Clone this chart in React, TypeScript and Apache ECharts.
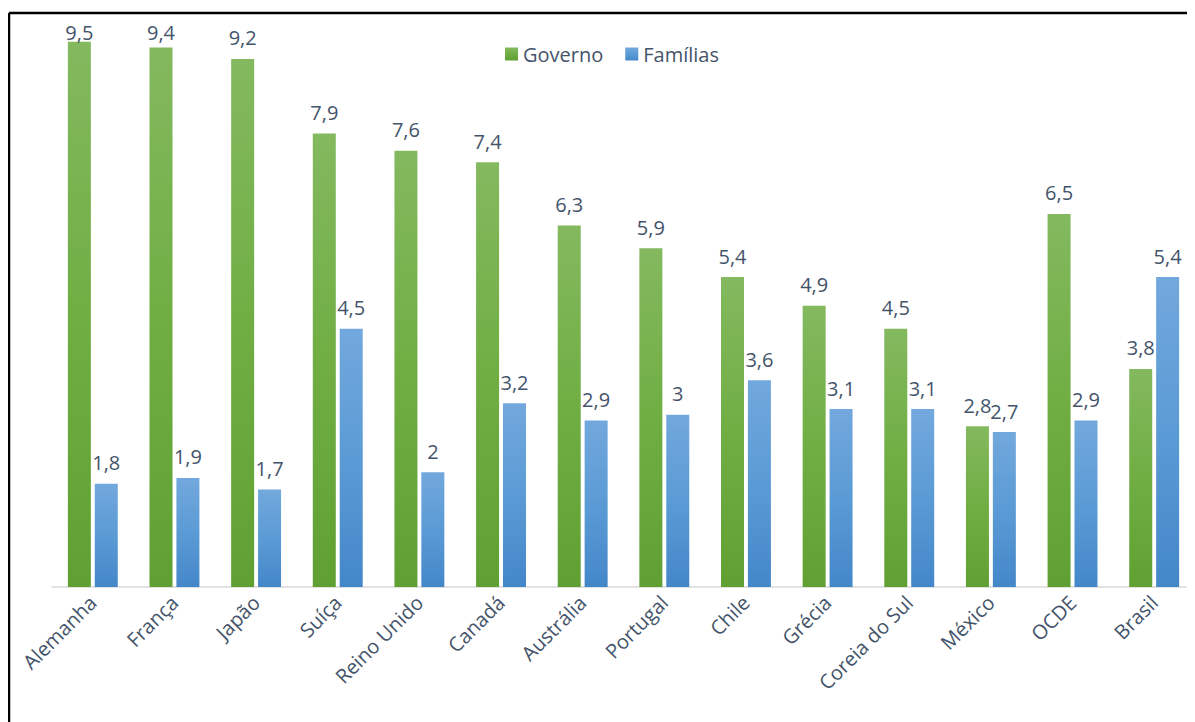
import React, { useEffect, useRef } from "react";
import * as echarts from "echarts";

const categories = ["Alemanha", "França", "Japão", "Suíça", "Reino Unido", "Canadá", "Austrália", "Portugal", "Chile", "Grécia", "Coreia do Sul", "México", "OCDE", "Brasil"];
const governo = [9.5, 9.4, 9.2, 7.9, 7.6, 7.4, 6.3, 5.9, 5.4, 4.9, 4.5, 2.8, 6.5, 3.8];
const familias = [1.8, 1.9, 1.7, 4.5, 2, 3.2, 2.9, 3, 3.6, 3.1, 3.1, 2.7, 2.9, 5.4];

const FONT = "'Open Sans', 'Noto Sans', sans-serif";
const TEXT = "#44546a";

export default function App() {
  const ref = useRef<HTMLDivElement>(null);
  useEffect(() => {
    document.documentElement.style.overflow = "hidden";
    const chart = echarts.init(ref.current!, undefined, { renderer: "svg" });
    const grad = (a: string, b: string, c: string) =>
      new echarts.graphic.LinearGradient(0, 0, 0, 1, [
        { offset: 0, color: a },
        { offset: 0.5, color: b },
        { offset: 1, color: c },
      ]);
    const label = {
      show: true,
      position: "top",
      distance: 11,
      fontFamily: FONT,
      fontSize: 20,
      color: TEXT,
      formatter: (p: any) => String(p.value).replace(".", ","),
    };
    const MIN_TOP = 14;
    const clampTop = (p: any) => {
      const r = p.labelRect;
      if (r.y < MIN_TOP) return { x: r.x, y: MIN_TOP };
      return {};
    };
    chart.setOption({
      animation: false,
      backgroundColor: "#fff",
      legend: {
        top: 31,
        left: 492,
        itemWidth: 13,
        itemHeight: 13,
        itemGap: 22,
        icon: "rect",
        textStyle: { fontFamily: FONT, fontSize: 20, color: TEXT },
        data: ["Governo", "Famílias"],
      },
      grid: { left: 44, right: -13, top: 5, bottom: 135 },
      xAxis: {
        type: "category",
        data: categories,
        axisTick: { show: false },
        axisLine: { lineStyle: { color: "#d9d9d9", width: 1.5 } },
        axisLabel: {
          rotate: 45,
          interval: 0,
          margin: 12,
          fontFamily: FONT,
          fontSize: 20,
          color: TEXT,
        },
      },
      yAxis: {
        type: "value",
        min: 0,
        max: 10,
        show: false,
        splitLine: { show: false },
      },
      series: [
        {
          name: "Governo",
          type: "bar",
          data: governo,
          barWidth: 23,
          barGap: "17%",
          itemStyle: { color: grad("#84b95f", "#70ae43", "#60a032") },
          label,
          labelLayout: clampTop,
        },
        {
          name: "Famílias",
          type: "bar",
          data: familias,
          barWidth: 23,
          itemStyle: { color: grad("#72a8dd", "#5b9bd5", "#4487c9") },
          label,
          labelLayout: clampTop,
        },
      ],
      graphic: [
        { type: "line", shape: { x1: 1, y1: 5, x2: 1187, y2: 5 }, style: { stroke: "#000", lineWidth: 2.5 } },
        { type: "line", shape: { x1: 1, y1: 5, x2: 1, y2: 714 }, style: { stroke: "#000", lineWidth: 2.5 } },
      ],
    });
    return () => chart.dispose();
  }, []);
  return <div ref={ref} style={{ width: 1187, height: 714 }} />;
}
